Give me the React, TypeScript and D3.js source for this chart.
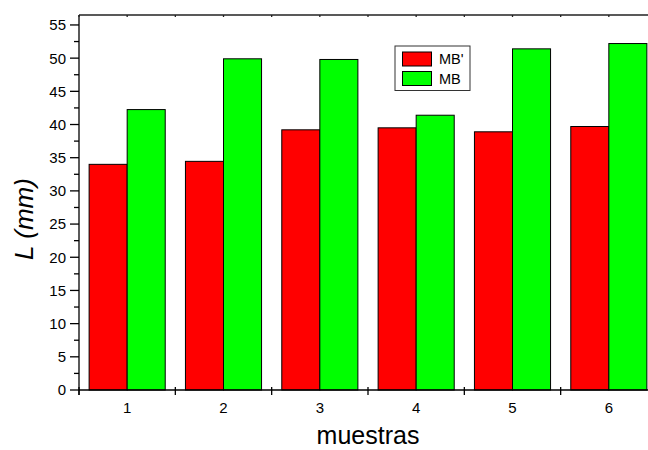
import React from "react";
import * as d3 from "d3";

const categories = [1, 2, 3, 4, 5, 6];
const mbPrime = [34.0, 34.45, 39.2, 39.5, 38.9, 39.7];
const mb = [42.25, 49.9, 49.8, 41.4, 51.4, 52.2];
const yTicks = [0, 5, 10, 15, 20, 25, 30, 35, 40, 45, 50, 55];
const seriesNames = ["MB'", "MB"];
const seriesColors = ["#ff0000", "#00ff00"];

const W = 648;
const H = 450;
const left = 79;
const right = 657;
const top = 15;
const bottom = 390;
const barW = 0.395;
const font = "'Liberation Sans', Arial, sans-serif";

export default function App() {
  const x = d3.scaleLinear().domain([0.5, 6.5]).range([left, right]);
  const y = d3.scaleLinear().domain([0, 56.5]).range([bottom, top]);

  const minorY = d3.range(0, 56.5, 2.5).filter((v) => v % 5 !== 0);
  const halfTicks = d3.range(0.5, 6.6, 1);
  const topTicks = d3.range(0.5, 6.6, 0.5);

  return (
    <svg
      width={W}
      height={H}
      style={{ position: "absolute", left: 0, top: 0, background: "#fff" }}
      fontFamily={font}
    >
      <rect width={W} height={H} fill="#fff" />
      {/* bars */}
      {categories.map((c, i) => (
        <g key={c}>
          <rect
            x={x(c - barW)}
            y={y(mbPrime[i])}
            width={x(c) - x(c - barW)}
            height={y(0) - y(mbPrime[i])}
            fill={seriesColors[0]}
            stroke="#000"
            strokeWidth={1}
          />
          <rect
            x={x(c)}
            y={y(mb[i])}
            width={x(c + barW) - x(c)}
            height={y(0) - y(mb[i])}
            fill={seriesColors[1]}
            stroke="#000"
            strokeWidth={1}
          />
        </g>
      ))}
      {/* frame */}
      <line x1={left} x2={W} y1={top} y2={top} stroke="#222" strokeWidth={1.3} />
      <line x1={left} x2={left} y1={top} y2={bottom + 5} stroke="#000" strokeWidth={1.3} />
      <line x1={left} x2={W} y1={bottom} y2={bottom} stroke="#000" strokeWidth={1.3} />
      {topTicks.map((t) => (
        <line key={t} x1={x(t)} x2={x(t)} y1={top} y2={top + 2} stroke="#222" strokeWidth={1.3} />
      ))}
      {/* y axis */}
      {yTicks.map((t) => (
        <g key={t}>
          <line x1={left - 9} x2={left} y1={y(t)} y2={y(t)} stroke="#000" strokeWidth={1.3} />
          <text x={left - 13} y={y(t)} dy="0.36em" textAnchor="end" fontSize={15} fill="#000">
            {t}
          </text>
        </g>
      ))}
      {minorY.map((t) => (
        <line key={t} x1={left - 5} x2={left} y1={y(t)} y2={y(t)} stroke="#000" strokeWidth={1.3} />
      ))}
      {/* x axis */}
      {halfTicks.map((t) => (
        <line key={t} x1={x(t)} x2={x(t)} y1={bottom - 3} y2={bottom + 5} stroke="#000" strokeWidth={1.3} />
      ))}
      {categories.map((c) => (
        <text key={c} x={x(c)} y={bottom + 23} textAnchor="middle" fontSize={15} fill="#000">
          {c}
        </text>
      ))}
      {/* axis titles */}
      <text x={(left + right) / 2} y={444} textAnchor="middle" fontSize={25} fill="#000">
        muestras
      </text>
      <text
        transform={`translate(33, 219) rotate(-90)`}
        textAnchor="middle"
        fontSize={26}
        fontStyle="italic"
        fill="#000"
      >
        L (mm)
      </text>
      {/* legend */}
      <rect x={395} y={46} width={75} height={44.5} fill="#fff" stroke="#333" strokeWidth={1} />
      {seriesNames.map((n, i) => (
        <g key={n}>
          <rect
            x={402.5}
            y={52 + i * 19.5}
            width={29}
            height={14}
            fill={seriesColors[i]}
            stroke="#000"
            strokeWidth={1}
          />
          <text x={439} y={59 + i * 19.5} dy="0.36em" fontSize={14.5} fill="#000">
            {n}
          </text>
        </g>
      ))}
    </svg>
  );
}
